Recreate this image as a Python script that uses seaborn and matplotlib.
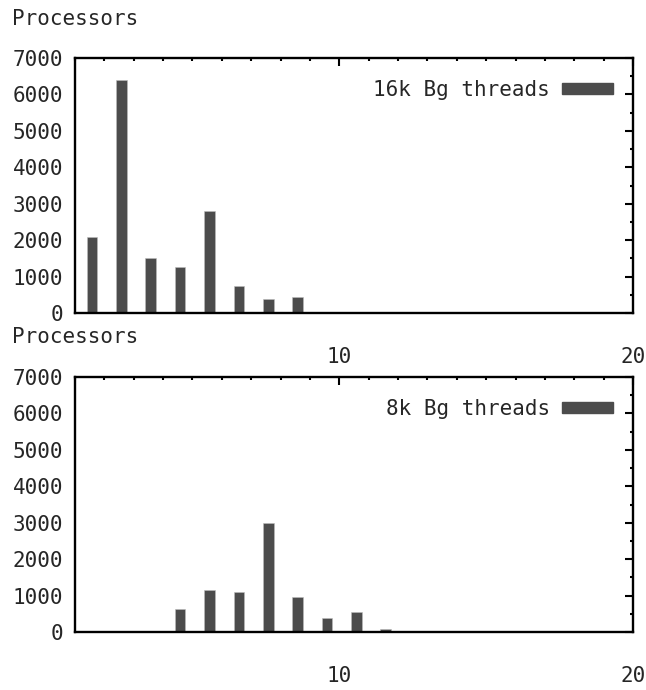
import numpy as np
import pandas as pd
import matplotlib
matplotlib.use("Agg")
import matplotlib.pyplot as plt
from matplotlib.patches import Patch
from matplotlib.ticker import MultipleLocator
import seaborn as sns

# Дані: кількість процесорів за кожним біном
bins = [1, 2, 3, 4, 5, 6, 7, 8, 9, 10, 11, 12]
threads_16k = [2100, 6400, 1500, 1270, 2800, 740, 390, 440, 25, 0, 0, 0]
threads_8k = [0, 0, 20, 620, 1160, 1100, 2980, 970, 390, 560, 80, 20]
labels = ["16k Bg threads", "8k Bg threads"]
y_label = "Processors"

sns.set_style("white")
plt.rcParams["font.family"] = ["DejaVu Sans Mono", "DejaVu Sans"]
plt.rcParams["font.size"] = 15

bar_color = "#4c4c4c"
offset = 0.58

W, H = 646, 690
fig = plt.figure(figsize=(W / 100, H / 100), dpi=100)
ax_top = fig.add_axes([75 / W, 1 - 313 / H, 558 / W, 255 / H])
ax_bot = fig.add_axes([75 / W, 1 - 632 / H, 558 / W, 255 / H])

for ax, vals, lab in [(ax_top, threads_16k, labels[0]), (ax_bot, threads_8k, labels[1])]:
    df = pd.DataFrame({"x": np.array(bins) + offset, "y": vals})
    sns.barplot(data=df, x="x", y="y", native_scale=True, width=0.36,
                color=bar_color, saturation=1, errorbar=None, ax=ax,
                edgecolor="#bbbbbb", linewidth=0.4)
    ax.set_xlim(1, 20)
    ax.set_ylim(0, 7000)
    ax.set_xlabel("")
    ax.set_ylabel("")
    ax.xaxis.set_major_locator(MultipleLocator(10))
    ax.xaxis.set_minor_locator(MultipleLocator(1))
    ax.yaxis.set_major_locator(MultipleLocator(1000))
    ax.yaxis.set_minor_locator(MultipleLocator(500))
    ax.set_xticklabels([f"{int(t)}" for t in ax.get_xticks()])
    ax.tick_params(axis="both", which="both", direction="in", top=True, right=True,
                   color="black", width=1.5)
    ax.tick_params(axis="both", which="major", length=5.5)
    ax.tick_params(axis="both", which="minor", length=2.5)
    ax.tick_params(axis="x", which="major", pad=24.5)
    ax.tick_params(axis="y", which="major", pad=8.6)
    for s in ax.spines.values():
        s.set_visible(True)
        s.set_color("black")
        s.set_linewidth(1.7)
    handle = Patch(facecolor=bar_color, edgecolor=bar_color)
    ax.legend([handle], [lab], loc="center right", bbox_to_anchor=(0.964, 0.875),
              frameon=False, markerfirst=False, handlelength=2.45, handleheight=0.43,
              handletextpad=0.58, borderpad=0, borderaxespad=0)

fig.text(12 / W, 1 - 25 / H, y_label, ha="left", va="baseline")
fig.text(12 / W, 1 - 343 / H, y_label, ha="left", va="baseline")

fig.savefig("out.png", dpi=100)
